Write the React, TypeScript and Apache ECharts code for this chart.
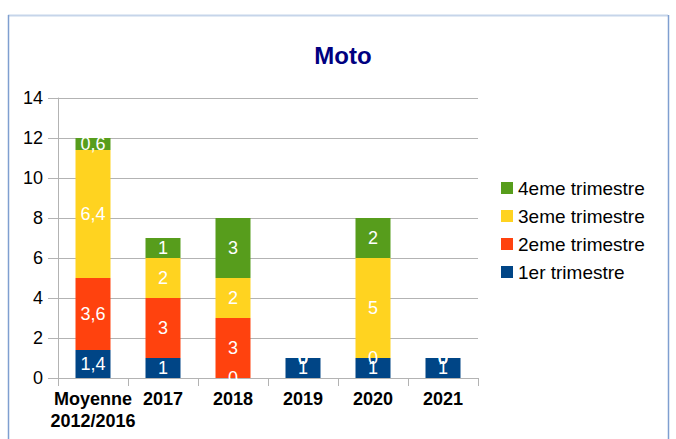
import React, { useEffect, useRef } from "react";
import * as echarts from "echarts";

const categories = ["Moyenne\n2012/2016", "2017", "2018", "2019", "2020", "2021"];
const q1 = [1.4, 1, 0, 1, 1, 1];
const q2 = [3.6, 3, 3, 0, 0, 0];
const q3 = [6.4, 2, 2, 0, 5, 0];
const q4 = [0.6, 1, 3, 0, 2, 0];
const seriesNames = ["1er trimestre", "2eme trimestre", "3eme trimestre", "4eme trimestre"];
const seriesColors = ["#004586", "#ff420e", "#ffd320", "#579d1c"];
const legendOrder = ["4eme trimestre", "3eme trimestre", "2eme trimestre", "1er trimestre"];

const FONT = "Liberation Sans";

export default function App() {
  const ref = useRef<HTMLDivElement>(null);
  useEffect(() => {
    if (!ref.current) return;
    const chart = echarts.init(ref.current, undefined, { renderer: "svg" });
    const data = [q1, q2, q3, q4];
    chart.setOption({
      animation: false,
      backgroundColor: "#ffffff",
      textStyle: { fontFamily: FONT },
      title: {
        text: "Moto",
        left: 338,
        textAlign: "center",
        top: 38,
        textStyle: { color: "#000080", fontSize: 24, fontWeight: "bold", fontFamily: FONT },
      },
      legend: {
        orient: "vertical",
        left: 496,
        top: 173,
        itemWidth: 12,
        itemHeight: 12,
        itemGap: 8,
        icon: "rect",
        data: legendOrder,
        textStyle: { fontSize: 19, lineHeight: 20, color: "#000", fontFamily: FONT, padding: [0, 0, 0, 0] },
      },
      grid: { left: 58, right: 198, top: 98, bottom: 61, containLabel: false },
      xAxis: {
        type: "category",
        data: categories,
        axisLine: { show: true, lineStyle: { color: "#b3b3b3", width: 1 } },
        axisTick: { show: true, length: 8, lineStyle: { color: "#b3b3b3" } },
        axisLabel: {
          color: "#000",
          fontSize: 18,
          fontWeight: "bold",
          fontFamily: FONT,
          margin: 10,
          interval: 0,
          lineHeight: 22,
        },
      },
      yAxis: {
        type: "value",
        min: 0,
        max: 14,
        interval: 2,
        axisLine: { show: true, lineStyle: { color: "#b3b3b3" } },
        axisTick: { show: true, length: 10, lineStyle: { color: "#b3b3b3" } },
        axisLabel: { color: "#000", fontSize: 18, fontFamily: FONT, margin: 15 },
        splitLine: { show: true, lineStyle: { color: "#b3b3b3" } },
      },
      series: seriesNames.map((name, i) => ({
        name,
        type: "bar",
        stack: "total",
        barWidth: "50%",
        data: data[i],
        itemStyle: { color: seriesColors[i] },
        label: {
          show: true,
          position: "inside",
          color: "#fff",
          fontSize: 18,
          fontFamily: FONT,
          formatter: (p: any) => String(p.value).replace(".", ","),
        },
      })),
      graphic: [
        { type: "line", shape: { x1: 8, y1: 15.5, x2: 668, y2: 15.5 }, style: { stroke: "#c6d5ea", lineWidth: 2 } },
        { type: "line", shape: { x1: 8.5, y1: 15, x2: 8.5, y2: 439 }, style: { stroke: "#7f9fd0", lineWidth: 1.5 } },
        { type: "line", shape: { x1: 668.5, y1: 15, x2: 668.5, y2: 439 }, style: { stroke: "#7f9fd0", lineWidth: 1.5 } },
      ],
    });
    return () => chart.dispose();
  }, []);
  return (
    <div
      ref={ref}
      style={{ position: "absolute", left: 0, top: 0, width: 676, height: 439 }}
    />
  );
}
